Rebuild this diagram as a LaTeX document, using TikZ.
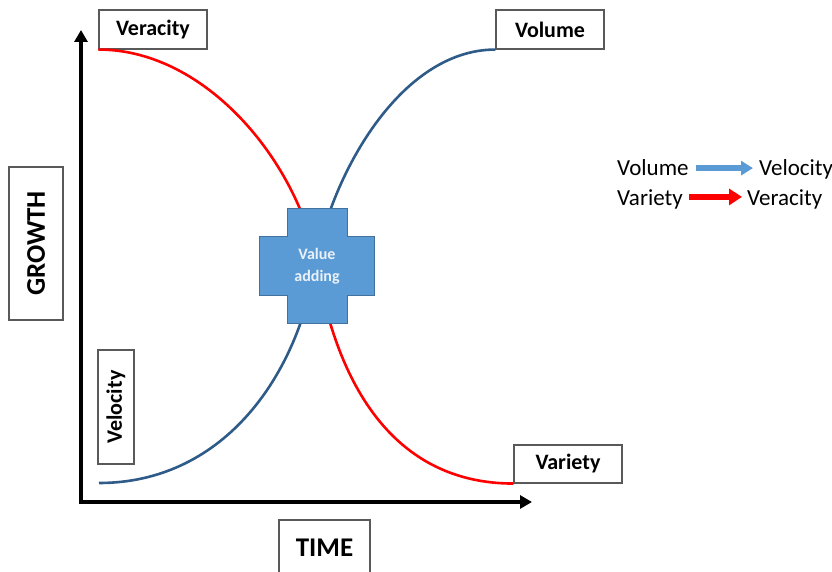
\documentclass[tikz,border=0pt]{standalone}
\usepackage{fontspec}
\setmainfont{Carlito}
\usetikzlibrary{arrows.meta}
\definecolor{curveblue}{HTML}{2F5B88}
\definecolor{crossfill}{HTML}{5B9BD5}
\definecolor{crossedge}{HTML}{41719C}
\definecolor{boxedge}{HTML}{595959}
\definecolor{crosstext}{HTML}{EAF1F8}
\begin{document}
\begin{tikzpicture}[x=1pt,y=-1pt,
  labelbox/.style={draw=boxedge, line width=1.1pt, fill=white, inner sep=0pt,
    font=\bfseries\fontsize{22}{26}\selectfont},
  growthcurve/.style={line width=2.6pt},
  axisline/.style={line width=3.2pt, line join=miter,
    {Triangle[length=12pt,width=13pt]}-{Triangle[length=12pt,width=13pt]}},
  legendtext/.style={font=\fontsize{23}{27}\selectfont, inner sep=0pt, anchor=base west},
  legendarrow/.style={line width=5.5pt, color=crossfill,
    -{Triangle[length=12pt,width=14pt]}},
  crossshape/.style={fill=crossfill, draw=crossedge, line width=1pt}
]
\useasboundingbox (0,0) rectangle (832,572);

% axes
\coordinate (ytip) at (81,30);
\coordinate (orig) at (81,502);
\coordinate (xtip) at (532,502);
\draw[axisline] (ytip) -- (orig) -- (xtip);

% label boxes
\node[labelbox, minimum width=108pt, minimum height=39pt] (ver) at (153,29.5) {Veracity};
\node[labelbox, minimum width=108pt, minimum height=39pt] (vol) at (550,29.5) {Volume};
\node[labelbox, minimum width=108pt, minimum height=38pt] (var) at (568,464) {Variety};
\node[labelbox, rotate=90, minimum width=114pt, minimum height=36pt] (vel) at (116,407) {Velocity};
\node[labelbox, rotate=90, minimum width=153pt, minimum height=54pt,
  font=\bfseries\fontsize{27}{32}\selectfont] (growth) at (36,243.5) {GROWTH};
\begin{scope}
  \clip (0,0) rectangle (832,572);
  \node[labelbox, minimum width=91pt, minimum height=56pt,
    font=\bfseries\fontsize{27}{32}\selectfont] (time) at (324.5,548) {TIME};
\end{scope}

% growth curves
\coordinate (rc) at (317,266);
\coordinate (bc) at (315.5,265);
\coordinate (bstart) at (99,483);
\draw[red, growthcurve] (ver.south west)
  .. controls +(110,0) and +(-17,-100) .. (rc)
  .. controls +(20,118) and +(-120,0) .. (var.south west);
\draw[curveblue, growthcurve] (bstart)
  .. controls +(120,0) and +(-20,118) .. (bc)
  .. controls +(15,-88) and +(-96,0) .. (vol.south west);

% value-adding cross
\path[crossshape, shift={(317,265.5)}]
  (-30,-57.5) -- (30,-57.5) -- (30,-29.5) -- (57,-29.5) -- (57,29.5) -- (30,29.5)
  -- (30,57.5) -- (-30,57.5) -- (-30,29.5) -- (-58,29.5) -- (-58,-29.5) -- (-30,-29.5) -- cycle;
\node[font=\bfseries\fontsize{16}{22}\selectfont, text=crosstext, align=center]
  (val) at (317,266) {Value\\adding};

% legend
\node[legendtext] (lvol) at (617,176) {Volume};
\node[legendtext] (lvel) at (759,176) {Velocity};
\node[legendtext] (lvar) at (617,205) {Variety};
\node[legendtext] (lver) at (747,205) {Veracity};
\draw[legendarrow, shorten <=7pt, shorten >=6pt] (lvol.east) -- (lvol.east -| lvel.west);
\draw[legendarrow, color=red, line width=6pt, shorten <=6pt, shorten >=5pt,
  -{Triangle[length=13pt,width=16pt]}] ([yshift=2pt]lvar.east) -- ([yshift=2pt]lvar.east -| lver.west);
\end{tikzpicture}
\end{document}
